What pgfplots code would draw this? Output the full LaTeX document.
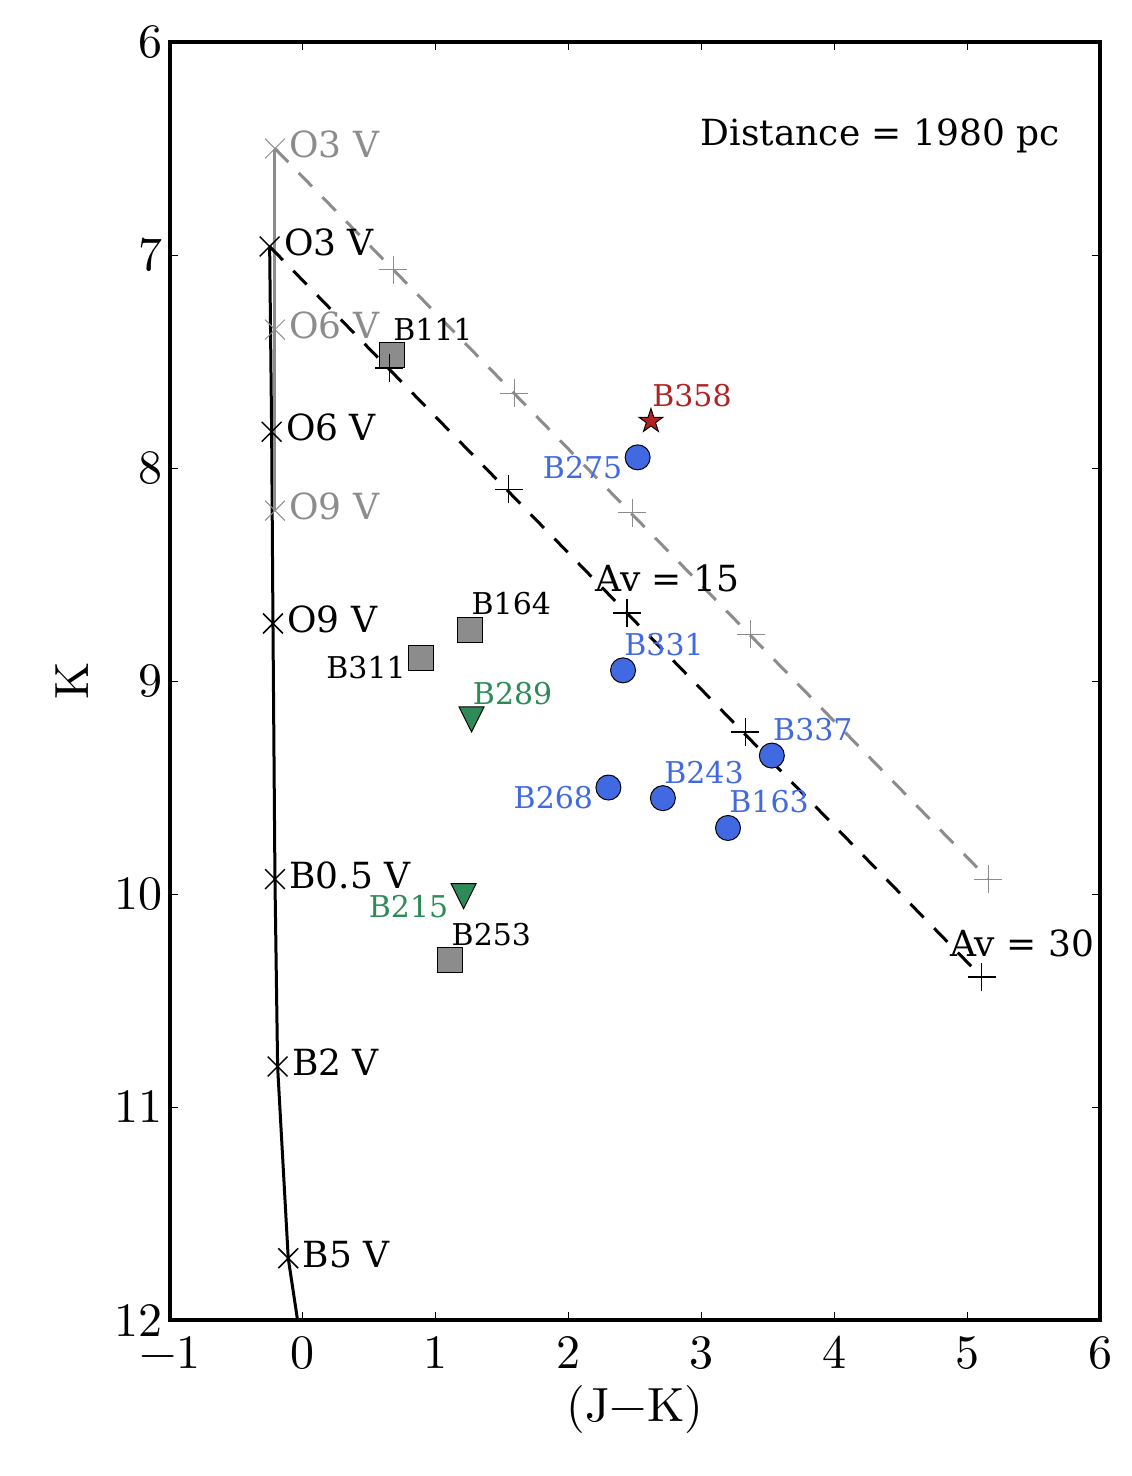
\documentclass[border=0pt]{standalone}
\usepackage{fontspec}
\setmainfont{DejaVu Serif}
\newfontfamily\lmten{lmroman10-regular}[Extension=.otf]
\usepackage{pgfplots}
\pgfplotsset{compat=1.18}

\definecolor{mygray}{gray}{0.55}
\definecolor{royal}{HTML}{4169E1}
\definecolor{sea}{HTML}{2E8B57}
\definecolor{fire}{HTML}{B22222}

\newcommand\mslab{\fontsize{18}{21}\selectfont}
\newcommand\srclab{\fontsize{15}{18}\selectfont}
\newcommand\axfont{\fontsize{24}{28}\selectfont\lmten}

% downward triangle, as wide as it is high
\pgfdeclareplotmark{tridown}{%
  \pgfpathmoveto{\pgfqpoint{-\pgfplotmarksize}{\pgfplotmarksize}}%
  \pgfpathlineto{\pgfqpoint{\pgfplotmarksize}{\pgfplotmarksize}}%
  \pgfpathlineto{\pgfqpoint{0pt}{-\pgfplotmarksize}}%
  \pgfpathclose\pgfusepathqfillstroke}
% filled five-pointed star
\pgfdeclareplotmark{fstar}{%
  \pgfpathmoveto{\pgfqpointpolar{90}{\pgfplotmarksize}}%
  \pgfpathlineto{\pgfqpointpolar{126}{0.382\pgfplotmarksize}}%
  \pgfpathlineto{\pgfqpointpolar{162}{\pgfplotmarksize}}%
  \pgfpathlineto{\pgfqpointpolar{198}{0.382\pgfplotmarksize}}%
  \pgfpathlineto{\pgfqpointpolar{234}{\pgfplotmarksize}}%
  \pgfpathlineto{\pgfqpointpolar{270}{0.382\pgfplotmarksize}}%
  \pgfpathlineto{\pgfqpointpolar{306}{\pgfplotmarksize}}%
  \pgfpathlineto{\pgfqpointpolar{342}{0.382\pgfplotmarksize}}%
  \pgfpathlineto{\pgfqpointpolar{18}{\pgfplotmarksize}}%
  \pgfpathlineto{\pgfqpointpolar{54}{0.382\pgfplotmarksize}}%
  \pgfpathclose\pgfusepathqfillstroke}

\tikzset{
  rlab/.style={anchor=base west, inner sep=0pt, font=\srclab, xshift=0.5pt, yshift=7.5pt},
  llab/.style={anchor=base east, inner sep=0pt, font=\srclab, xshift=-7.5pt, yshift=-10.5pt},
  mlab/.style={anchor=west, inner sep=0pt, font=\mslab, xshift=7pt, yshift=2pt},
}

\begin{document}
\begin{tikzpicture}
\begin{axis}[
  scale only axis, width=465pt, height=639pt,
  xmin=-1, xmax=6, ymin=6, ymax=12, y dir=reverse,
  xtick={-1,...,6}, ytick={6,...,12},
  xticklabels={−1,0,1,2,3,4,5,6},
  yticklabels={6,7,8,9,10,11,12},
  tick align=inside, tick pos=both, major tick length=4pt,
  tick style={black, line width=0.5pt},
  axis line style={line width=2pt},
  ticklabel style={font=\axfont, inner sep=0pt},
  xticklabel style={yshift=-8pt},
  yticklabel style={xshift=-3.5pt},
  xlabel={(J−K)}, ylabel={K},
  label style={font=\axfont},
  xlabel style={at={(axis description cs:0.5,-0.0704)}, anchor=center},
  ylabel style={at={(axis description cs:-0.1054,0.5)}, anchor=center},
  clip=false,
]
% sources
\addplot[only marks, mark=square*, mark size=6.25pt, mark options={fill=mygray, draw=black, line width=0.5pt}]
  coordinates {(0.67,7.47) (1.26,8.76) (0.89,8.89) (1.11,10.31)};
\addplot[only marks, mark=tridown, mark size=6.25pt, mark options={fill=sea, draw=black, line width=0.5pt}]
  coordinates {(1.27,9.18) (1.21,10.01)};
\addplot[only marks, mark=fstar, mark size=6.3pt, mark options={fill=fire, draw=black, line width=0.5pt}]
  coordinates {(2.62,7.78)};
\addplot[only marks, mark=*, mark size=6.25pt, mark options={fill=royal, draw=black, line width=0.5pt}]
  coordinates {(2.52,7.95) (2.41,8.95) (3.53,9.35) (2.30,9.50) (2.71,9.55) (3.20,9.69)};

% main sequence, 1980 pc
\addplot[black, line width=1.5pt]
  coordinates {(-0.25,6.96) (-0.235,7.83) (-0.225,8.73) (-0.21,9.93) (-0.19,10.81) (-0.11,11.71) (-0.04,12.0)};
\addplot[only marks, mark=x, mark size=7pt, black, mark options={line width=0.75pt}]
  coordinates {(-0.25,6.96) (-0.235,7.83) (-0.225,8.73) (-0.21,9.93) (-0.19,10.81) (-0.11,11.71)};
% shifted main sequence
\addplot[mygray, line width=1.5pt]
  coordinates {(-0.21,6.50) (-0.21,7.35) (-0.21,8.20)};
\addplot[only marks, mark=x, mark size=7pt, mygray, mark options={line width=0.5pt}]
  coordinates {(-0.21,6.50) (-0.21,7.35) (-0.21,8.20)};

% reddening vectors
\addplot[black, line width=1.5pt, dash pattern=on 9.5pt off 7.5pt]
  coordinates {(-0.25,6.96) (5.11,10.39)};
\addplot[only marks, mark=+, mark size=7pt, black, mark options={line width=0.7pt}]
  coordinates {(0.65,7.53) (1.55,8.10) (2.44,8.68) (3.33,9.24) (5.11,10.39)};
\addplot[mygray, line width=1.5pt, dash pattern=on 9.5pt off 7.5pt]
  coordinates {(-0.21,6.50) (5.16,9.93)};
\addplot[only marks, mark=+, mark size=7pt, mygray, mark options={line width=0.5pt}]
  coordinates {(0.68,7.07) (1.59,7.65) (2.48,8.21) (3.37,8.78) (5.16,9.93)};

% spectral type labels
\node[mlab] at (axis cs:-0.25,6.96) {O3 V};
\node[mlab] at (axis cs:-0.235,7.83) {O6 V};
\node[mlab] at (axis cs:-0.225,8.73) {O9 V};
\node[mlab] at (axis cs:-0.21,9.93) {B0.5 V};
\node[mlab] at (axis cs:-0.19,10.81) {B2 V};
\node[mlab] at (axis cs:-0.11,11.71) {B5 V};
\node[mlab, text=mygray] at (axis cs:-0.21,6.50) {O3 V};
\node[mlab, text=mygray] at (axis cs:-0.21,7.35) {O6 V};
\node[mlab, text=mygray] at (axis cs:-0.21,8.20) {O9 V};

% source labels
\node[rlab] at (axis cs:0.67,7.47) {B111};
\node[rlab] at (axis cs:1.26,8.76) {B164};
\node[llab] at (axis cs:0.89,8.89) {B311};
\node[rlab] at (axis cs:1.11,10.31) {B253};
\node[rlab, text=sea] at (axis cs:1.27,9.18) {B289};
\node[llab, text=sea] at (axis cs:1.21,10.01) {B215};
\node[rlab, text=fire] at (axis cs:2.62,7.78) {B358};
\node[llab, text=royal] at (axis cs:2.52,7.95) {B275};
\node[rlab, text=royal] at (axis cs:2.41,8.95) {B331};
\node[rlab, text=royal] at (axis cs:3.53,9.35) {B337};
\node[llab, text=royal] at (axis cs:2.30,9.50) {B268};
\node[rlab, text=royal] at (axis cs:2.71,9.55) {B243};
\node[rlab, text=royal] at (axis cs:3.20,9.69) {B163};

\node[anchor=west, inner sep=0pt, font=\mslab] at (axis cs:2.20,8.52) {Av = 15};
\node[anchor=west, inner sep=0pt, font=\mslab] at (axis cs:4.87,10.23) {Av = 30};
\node[anchor=east, inner sep=0pt, font=\mslab] at (axis cs:5.70,6.44) {Distance = 1980 pc};
\end{axis}
\pgfresetboundingbox
\path[use as bounding box] (-85pt,-78pt) rectangle (480.5pt,660pt);
\end{tikzpicture}
\end{document}
